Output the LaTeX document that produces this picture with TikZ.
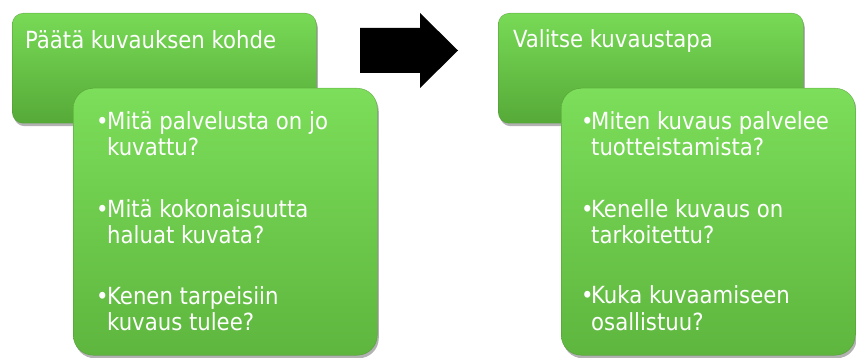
\documentclass[tikz,border=0pt]{standalone}
\usepackage{fontspec}
\setmainfont{DejaVu Sans Condensed}
\usetikzlibrary{shadows}
\definecolor{gtop}{RGB}{124,222,90}
\definecolor{gbot}{RGB}{94,182,62}
\definecolor{btop}{RGB}{120,218,86}
\definecolor{bbot}{RGB}{86,170,56}
\definecolor{gedge}{RGB}{78,146,48}
\tikzset{
  backbox/.style={rectangle, rounded corners=11pt, inner sep=0pt, anchor=north west,
    top color=btop, bottom color=bbot, draw=gedge, draw opacity=0.6, line width=0.5pt,
    drop shadow={shadow xshift=1.5pt, shadow yshift=-3pt, opacity=0.3, fill=black}},
  frontbox/.style={rectangle, rounded corners=20pt, inner sep=0pt, anchor=north west,
    top color=gtop, bottom color=gbot, draw=gedge, draw opacity=0.6, line width=0.5pt,
    drop shadow={shadow xshift=1.5pt, shadow yshift=-3pt, opacity=0.3, fill=black}},
  txt/.style={anchor=base west, inner sep=0pt, text=white, font=\fontsize{23.6}{28}\selectfont},
  blt/.style={txt},
  arrowshape/.style={fill=black}
}
\begin{document}
\begin{tikzpicture}[x=1pt,y=-1pt]
\useasboundingbox (0,0) rectangle (856,358);
% left group
\node[backbox, minimum width=304pt, minimum height=110pt] (b1) at (12,13) {};
\node[txt] (t1) at (25,49) {Päätä kuvauksen kohde};
\node[frontbox, minimum width=304pt, minimum height=267pt] (f1) at (73,88) {};
\node[blt] (d11) at (96,130) {•};
\node[txt] (l11) at (107,130) {Mitä palvelusta on jo};
\node[txt] (l12) at (107,156) {kuvattu?};
\node[blt] (d12) at (96,217) {•};
\node[txt] (l13) at (107,217) {Mitä kokonaisuutta};
\node[txt] (l14) at (107,243) {haluat kuvata?};
\node[blt] (d13) at (96,304) {•};
\node[txt] (l15) at (107,304) {Kenen tarpeisiin};
\node[txt] (l16) at (107,330) {kuvaus tulee?};
% arrow
\fill[arrowshape] (360,28) -- (420,28) -- (420,13) -- (458,50.5) -- (420,88) -- (420,73) -- (360,73) -- cycle;
% right group
\node[backbox, minimum width=305pt, minimum height=110pt] (b2) at (498,13) {};
\node[txt] (t2) at (513,48) {Valitse kuvaustapa};
\node[frontbox, minimum width=294pt, minimum height=267pt] (f2) at (561,88) {};
\node[blt] (d21) at (581,130) {•};
\node[txt] (l21) at (591,130) {Miten kuvaus palvelee};
\node[txt] (l22) at (591,156) {tuotteistamista?};
\node[blt] (d22) at (581,217) {•};
\node[txt] (l23) at (591,217) {Kenelle kuvaus on};
\node[txt] (l24) at (591,243) {tarkoitettu?};
\node[blt] (d23) at (581,303) {•};
\node[txt] (l25) at (591,303) {Kuka kuvaamiseen};
\node[txt] (l26) at (591,330) {osallistuu?};
\end{tikzpicture}
\end{document}
